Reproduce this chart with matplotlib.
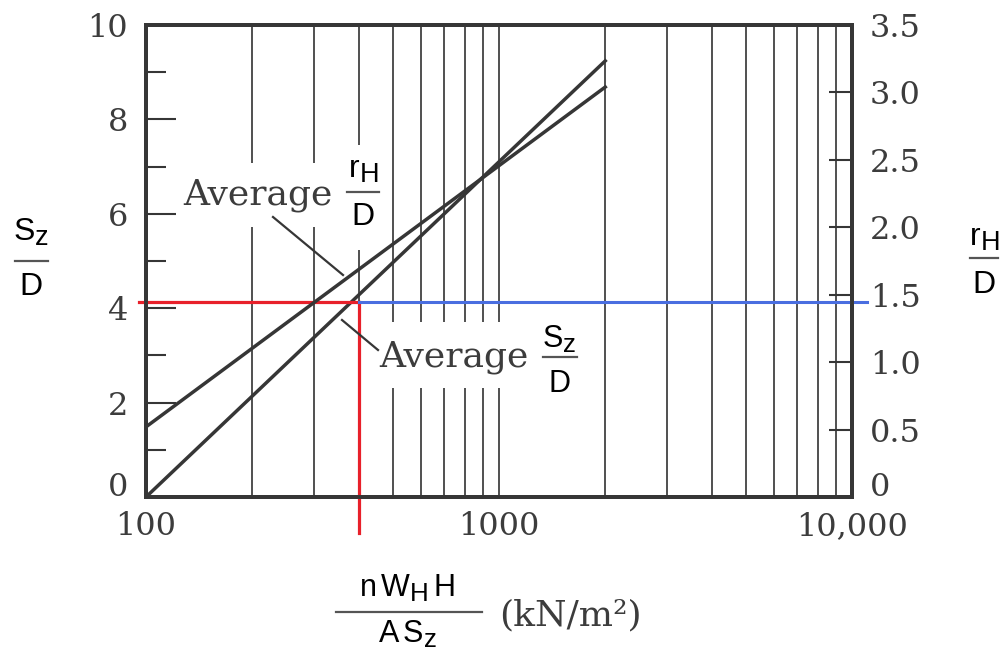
import matplotlib
matplotlib.use('Agg')
import matplotlib.pyplot as plt
import matplotlib._mathtext as mathtext_mod
import numpy as np
from matplotlib.patches import Rectangle
from matplotlib.lines import Line2D
from matplotlib.ticker import FixedLocator, NullLocator
from matplotlib.transforms import ScaledTranslation

plt.rcParams['font.family'] = 'DejaVu Serif'
plt.rcParams['mathtext.fontset'] = 'custom'
plt.rcParams['mathtext.rm'] = 'Liberation Sans'
plt.rcParams['mathtext.it'] = 'Liberation Sans:italic'
# bigger subscripts, like the printed labels
mathtext_mod.SHRINK_FACTOR = 0.85

#####################################################################
# data
pressure = [100, 2000]          # nW_H H / A S_z (kN/m2) at line ends
sz_over_d = [0.0, 9.24]         # Average Sz/D (left scale)
rh_over_d = [0.52, 3.04]        # Average rH/D (right scale)

grid_pressures = [200, 300, 400, 500, 600, 700, 800, 900, 1000,
                  2000, 3000, 4000, 5000, 6000, 7000, 8000, 9000]
x_ticks = [100, 1000, 10000]
x_ticklabels = ['100', '1000', '10,000']
left_ticks = [0, 2, 4, 6, 8, 10]
left_minor = [1, 3, 5, 7, 9]
right_ticks = [0, 0.5, 1.0, 1.5, 2.0, 2.5, 3.0, 3.5]
right_ticklabels = ['0', '0.5', '1.0', '1.5', '2.0', '2.5', '3.0', '3.5']

# worked example
example_pressure = 400
example_sz = 4.14

#####################################################################
W, H = 1002, 655
fig = plt.figure(figsize=(W / 100, H / 100), dpi=100)

def px(x, y):
    # figure pixel (from top-left) -> figure fraction
    return x / W, 1 - y / H

ax = fig.add_axes([146 / W, 1 - 497 / H, 706 / W, 472 / H])
ax2 = ax.twinx()

ink = '#363636'
txt = '#3c3c3c'

ax.set_xscale('log')
ax.set_xlim(100, 10000)
ax.set_ylim(0, 10)
ax2.set_ylim(0, 3.5)

# vertical grid lines
ax.vlines(grid_pressures, 0, 10, color='#505050', lw=1.4, zorder=1)

# white boxes behind the inner labels
for x0, y0, x1, y1 in [(178, 163, 338, 227), (341, 145, 385, 250), (372, 322, 595, 388)]:
    a, b = px(x0, y1)
    c, d = px(x1, y0)
    ax.add_patch(Rectangle((a, b), c - a, d - b, transform=fig.transFigure,
                           fc='white', ec='none', zorder=1.5))

# the two curves
ax.plot(pressure, sz_over_d, color=ink, lw=2.5, zorder=3)
ax2.plot(pressure, rh_over_d, color=ink, lw=2.5, zorder=3)

# worked example lines
ax.plot([95.5, example_pressure], [example_sz, example_sz], color='#e8202a', lw=2.3, clip_on=False, zorder=4)
ax.plot([example_pressure, example_pressure], [example_sz, -0.76], color='#e8202a', lw=2.3, clip_on=False, zorder=4)
ax.plot([example_pressure, 11030], [example_sz, example_sz], color='#4a6ee0', lw=2.2, clip_on=False, zorder=4)

#####################################################################
# axes, ticks
for a in (ax, ax2):
    for s in a.spines.values():
        s.set_linewidth(2.8)
        s.set_color(ink)

ax.xaxis.set_major_locator(FixedLocator(x_ticks))
ax.xaxis.set_minor_locator(NullLocator())
ax.set_xticklabels(x_ticklabels)
ax.tick_params(axis='x', which='both', length=0, pad=10, labelsize=23, labelcolor=txt)

ax.yaxis.set_major_locator(FixedLocator(left_ticks))
ax.yaxis.set_minor_locator(FixedLocator(left_minor))
ax.tick_params(axis='y', which='major', direction='in', length=21.6, width=1.5, color=ink,
               pad=13, labelsize=23, labelcolor=txt)
ax.tick_params(axis='y', which='minor', direction='in', length=14.4, width=1.5, color=ink)

ax2.yaxis.set_major_locator(FixedLocator(right_ticks))
ax2.set_yticklabels(right_ticklabels)
ax2.tick_params(axis='y', which='major', direction='in', length=16.5, width=1.5, color=ink,
                pad=13, labelsize=23, labelcolor=txt)

# the two "0" labels sit a little above the bottom axis
lift = ScaledTranslation(0, 0.13, fig.dpi_scale_trans)
for t in (ax.yaxis.get_major_ticks()[0], ax2.yaxis.get_major_ticks()[0]):
    t.label1.set_transform(t.label1.get_transform() + lift)
    t.label2.set_transform(t.label2.get_transform() + lift)

#####################################################################
# labels
def frac(xc, num, num_base, bar_y, bar_x0, bar_x1, den, den_base, size):
    fig.text(*px(xc, num_base), num, ha='center', va='baseline', fontsize=size, color='black')
    (x0, y0), (x1, _) = px(bar_x0, bar_y), px(bar_x1, bar_y)
    fig.add_artist(Line2D([x0, x1], [y0, y0], transform=fig.transFigure, color='#555555', lw=1.6))
    fig.text(*px(xc, den_base), den, ha='center', va='baseline', fontsize=size, color='black')

# axis labels
frac(31, r'$\mathrm{S_z}$', 241, 261, 15, 48, r'$\mathrm{D}$', 295, 23)
frac(984, r'$\mathrm{r_H}$', 246, 258, 970, 998, r'$\mathrm{D}$', 293, 23)
frac(407, r'$\mathrm{n\,W_H\,H}$', 597, 612, 336, 482, r'$\mathrm{A\,S_z}$', 643, 22)
fig.text(*px(499, 615), '(kN/m²)', ha='left', va='center', fontsize=26, color=txt)

# inner labels
fig.text(*px(183, 204), 'Average', ha='left', va='baseline', fontsize=26, color=txt)
frac(363, r'$\mathrm{r_H}$', 178, 192, 347, 379, r'$\mathrm{D}$', 225, 23)
fig.text(*px(379, 366), 'Average', ha='left', va='baseline', fontsize=26, color=txt)
frac(559, r'$\mathrm{S_z}$', 348, 357, 543, 577, r'$\mathrm{D}$', 392, 22)

# leader lines
for (xa, ya), (xb, yb) in [((273, 217), (343, 275)), ((342, 320), (378, 350))]:
    p0, p1 = px(xa, ya), px(xb, yb)
    fig.add_artist(Line2D([p0[0], p1[0]], [p0[1], p1[1]], transform=fig.transFigure, color=ink, lw=1.6))

fig.savefig('out.png', dpi=100, facecolor='white')
